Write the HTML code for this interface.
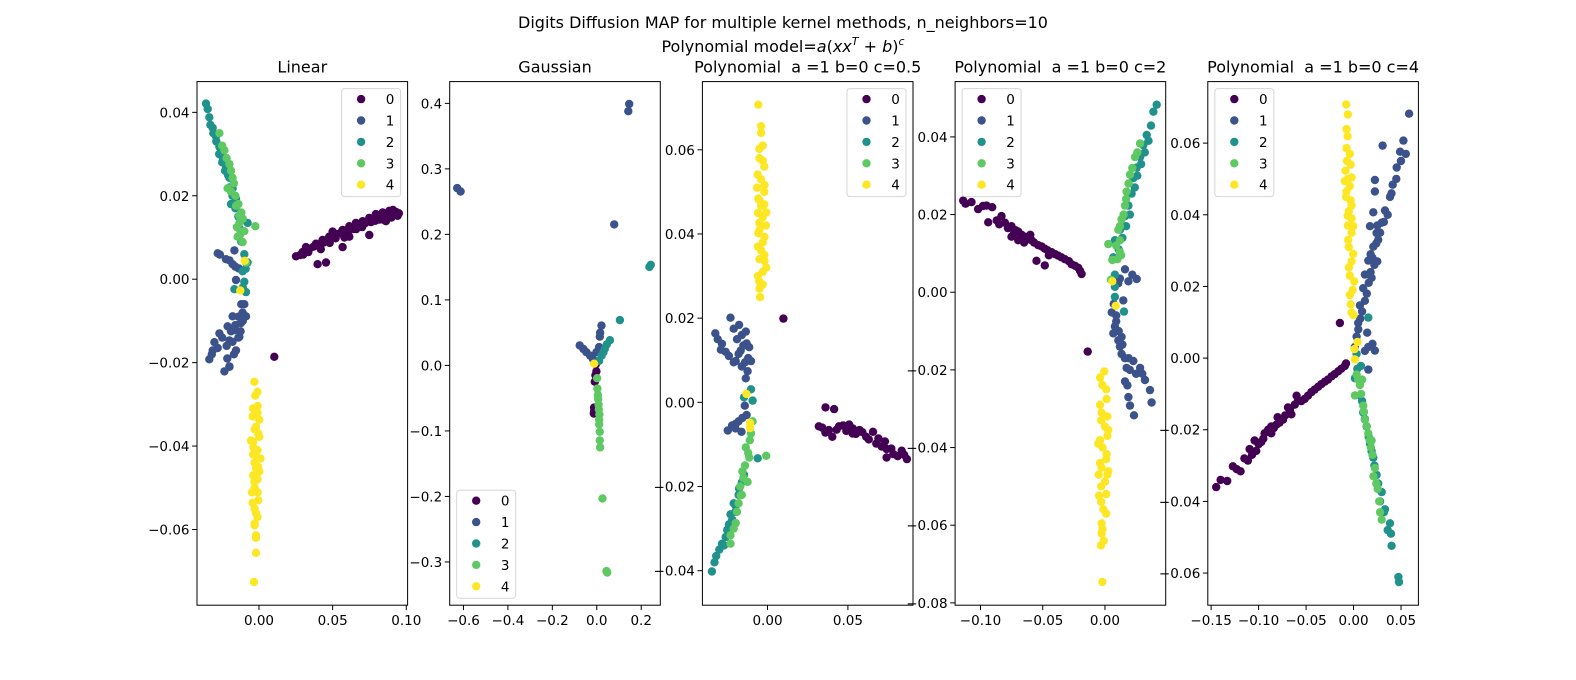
<!DOCTYPE html>
<html><head><meta charset="utf-8"><style>
html,body{margin:0;padding:0;background:#fff;}
svg{display:block;font-family:"DejaVu Sans","Liberation Sans",sans-serif;}
.pre{white-space:pre;}
</style></head><body>
<svg id="fig" width="1576" height="680" viewBox="0 0 1576 680" xmlns="http://www.w3.org/2000/svg">
<rect width="1576" height="680" fill="#fff"/>
<text x="783" y="28" font-size="16" text-anchor="middle">Digits Diffusion MAP for multiple kernel methods, n_neighbors=10</text>
<text x="783" y="52" font-size="16" text-anchor="middle">Polynomial model=<tspan font-style="italic">a</tspan>(<tspan font-style="italic">xx</tspan><tspan font-style="italic" font-size="11" dy="-7">T</tspan><tspan dy="7"> + </tspan><tspan font-style="italic">b</tspan>)<tspan font-style="italic" font-size="11" dy="-7">c</tspan></text>
<g id="plots"></g>
</svg>
<script>
// ---- data (x,y pairs in data coordinates) ----
const linear_class0 = [0.0251,0.0055,0.0296,0.0065,0.0342,0.0073,0.0387,0.0085,0.0432,0.0094,0.0477,0.0102,0.0523,0.0108,0.0568,0.0118,0.0613,0.0127,0.0658,0.0135,0.0704,0.0139,0.0749,0.0147,0.0794,0.0156,0.0839,0.016,0.0885,0.0164,0.093,0.0161,0.0941,0.0152,0.0862,0.0139,0.0749,0.0106,0.0568,0.0077,0.0398,0.0036,0.0455,0.004,0.0104,-0.0186,0.0319,0.0077,0.05,0.0114,0.0681,0.0127,0.0613,0.0102,0.0817,0.0143,
0.028,0.0058,0.033,0.0068,0.037,0.0078,0.041,0.0082,0.044,0.0088,0.047,0.0093,0.052,0.0098,0.055,0.011,0.058,0.0108,0.061,0.0117,0.064,0.012,0.067,0.0128,0.070,0.0125,0.072,0.0134,0.076,0.0137,0.078,0.0145,0.081,0.015,0.085,0.0152,0.088,0.0158,0.091,0.0166,0.095,0.0158,0.09,0.0148,0.084,0.0143,0.079,0.014,0.066,0.012,0.058,0.01,0.048,0.0087,0.042,0.0072,0.0335,0.0065,0.03,0.0059];
const linear_class1 = [-0.0265,0.0059,-0.0224,0.0048,-0.0179,0.0036,-0.0138,0.0026,-0.0167,0.0069,-0.0156,-0.0002,-0.01,-0.006,-0.0088,-0.0089,-0.0122,-0.0105,-0.0179,-0.0089,-0.0213,-0.0113,-0.0269,-0.013,-0.0303,-0.0151,-0.0337,-0.0192,-0.0314,-0.0171,-0.0235,-0.0221,-0.0201,-0.0209,-0.0156,-0.0171,-0.0133,-0.0138,-0.0167,-0.0122,-0.0111,-0.008,-0.0201,-0.0147,
-0.028,0.0062,-0.02,0.0045,-0.016,0.003,-0.012,-0.006,-0.011,-0.010,-0.014,-0.009,-0.016,-0.011,-0.019,-0.0125,-0.018,-0.015,-0.022,-0.016,-0.025,-0.014,-0.028,-0.0165,-0.032,-0.018,-0.0215,-0.019,-0.017,-0.018,-0.014,-0.014,-0.0125,-0.0125,-0.02,-0.021];
const linear_class2 = [-0.036,0.0421,-0.0348,0.0408,-0.0337,0.0388,-0.0314,0.0363,-0.0292,0.0342,-0.0269,0.0317,-0.0247,0.0292,-0.0224,0.0267,-0.0201,0.0243,-0.0179,0.0218,-0.019,0.018,-0.0156,0.0193,-0.0077,0.0135,-0.01,0.006,-0.0077,0.004,-0.0111,0.0019,-0.01,-0.0006,-0.0167,-0.0024,-0.0088,-0.0031,-0.0258,0.0317,
-0.033,0.037,-0.031,0.035,-0.029,0.033,-0.027,0.030,-0.025,0.028,-0.023,0.026,-0.021,0.025,-0.02,0.022,-0.018,0.02,-0.016,0.017,-0.014,0.015,-0.013,0.012,-0.012,0.009,-0.009,0.0025,-0.011,-0.002];
const linear_class3 = [-0.0269,0.035,-0.0235,0.0309,-0.0201,0.0276,-0.0179,0.0243,-0.019,0.021,-0.0156,0.0176,-0.0133,0.0152,-0.0133,0.0135,-0.0025,0.0127,-0.0145,0.0102,-0.0111,0.0089,-0.0122,0.0114,-0.0088,0.004,-0.0213,0.0218,
-0.025,0.032,-0.022,0.029,-0.019,0.026,-0.017,0.023,-0.016,0.020,-0.014,0.018,-0.012,0.016,-0.011,0.0145,-0.015,0.0125,-0.013,0.0105,-0.010,0.0115];
const linear_class4 = [-0.0032,-0.0246,-0.0025,-0.0279,-0.0009,-0.0304,-0.0043,-0.0329,-0.002,-0.0354,0.0002,-0.0378,-0.0038,-0.0403,-0.0009,-0.0428,-0.002,-0.0453,-0.0032,-0.0486,-0.0009,-0.0511,-0.0043,-0.0536,-0.002,-0.0561,-0.0029,-0.0586,-0.002,-0.0614,-0.002,-0.0656,-0.0034,-0.0726,-0.0097,0.0044,-0.0127,-0.0027,0.0002,-0.0337,-0.0054,-0.0387,0.0002,-0.0461,-0.0048,-0.0511,
-0.001,-0.027,-0.004,-0.031,-0.001,-0.032,-0.003,-0.036,-0.0005,-0.037,-0.004,-0.039,-0.001,-0.041,-0.003,-0.044,-0.0005,-0.045,-0.004,-0.047,-0.001,-0.048,-0.003,-0.050,-0.0005,-0.053,-0.003,-0.055,-0.001,-0.057,-0.003,-0.059,-0.002,-0.062,-0.004,-0.042,0.001,-0.043];

const gauss_class0 = [-0.0045,0.0016,-0.0015,-0.009,-0.0091,-0.0248,-0.0121,-0.0644,-0.0136,-0.0734,-0.012,-0.07,-0.006,-0.015];
const gauss_class1 = [-0.628,0.2707,-0.613,0.2654,0.146,0.399,0.142,0.388,0.0785,0.2153,-0.077,0.0306,-0.0468,0.0201,-0.0166,0.0095,0.0211,0.0607,0.0136,0.0438,0.0106,0.028,-0.0015,0.0201,-0.06,0.025,-0.03,0.015,0.015,0.05];
const gauss_class2 = [0.237,0.1504,0.243,0.1536,0.104,0.0691,0.0589,0.0385,0.0362,0.0253,0.0211,0.0148,0.0106,0.0069,0.045,0.032,0.03,0.02];
const gauss_class3 = [0.0015,-0.0195,0.003,-0.0354,0.006,-0.0512,0.0091,-0.067,0.0106,-0.0828,0.0136,-0.1013,0.0136,-0.1145,0.0151,-0.1251,0.0257,-0.2032,0.0438,-0.314,0.0468,-0.3161,0.005,-0.045,0.008,-0.06,0.012,-0.075,0.011,-0.09];
const gauss_class4 = [-0.0121,0.0026];

const polyA_class0 = [0.0099,0.0199,0.0319,-0.0057,0.0361,-0.0012,0.0414,-0.0016,0.0382,-0.0066,0.0445,-0.0057,0.0508,-0.0053,0.0572,-0.0066,0.0614,-0.0082,0.0656,-0.007,0.0677,-0.0098,0.0741,-0.0111,0.0783,-0.0123,0.0835,-0.0115,0.0867,-0.0135,0.0741,-0.0131,0.0403,-0.0082,0.0529,-0.0074,
0.034,-0.006,0.036,-0.0072,0.043,-0.0065,0.047,-0.0055,0.049,-0.0068,0.053,-0.0062,0.055,-0.0075,0.059,-0.0071,0.063,-0.0088,0.069,-0.0086,0.071,-0.0105,0.077,-0.011,0.081,-0.0128,0.085,-0.0125,0.073,-0.0093];
const polyA_class1 = [-0.0325,0.0164,-0.0283,0.0139,-0.023,0.0201,-0.0177,0.0184,-0.0135,0.0168,-0.0114,0.0131,-0.0103,0.0098,-0.0124,0.0074,-0.0198,0.0098,-0.0167,0.0123,-0.0135,0.0057,-0.0141,-0.0008,-0.0247,-0.0067,-0.0198,-0.0051,-0.0156,-0.0037,-0.0162,-0.007,
-0.031,0.015,-0.029,0.0125,-0.026,0.012,-0.024,0.011,-0.021,0.0175,-0.019,0.015,-0.016,0.016,-0.015,0.0135,-0.013,0.014,-0.018,0.0115,-0.021,0.0095,-0.016,0.0085,-0.014,0.0095,-0.012,0.0105,-0.022,-0.0055,-0.018,-0.0045,-0.013,-0.003,-0.02,-0.0062];
const polyA_class2 = [-0.0103,0.0031,-0.0146,0.0012,-0.0093,0.0004,-0.0061,-0.0133,-0.0146,-0.0172,-0.0177,-0.0205,-0.0198,-0.0246,-0.0219,-0.0279,-0.0251,-0.0303,-0.0283,-0.0336,-0.0319,-0.0365,-0.0346,-0.0402,-0.023,-0.0266,
-0.016,-0.019,-0.018,-0.022,-0.02,-0.026,-0.022,-0.028,-0.024,-0.029,-0.026,-0.032,-0.027,-0.034,-0.03,-0.035,-0.033,-0.038,-0.021,-0.024];
const polyA_class3 = [-0.0103,-0.0074,-0.0135,-0.0107,-0.0114,-0.0131,-0.0008,-0.0127,-0.0156,-0.0164,-0.0124,-0.0189,-0.0167,-0.0221,-0.0198,-0.0287,-0.023,-0.0316,-0.023,-0.0336,-0.0093,-0.0045,
-0.011,-0.009,-0.012,-0.012,-0.014,-0.015,-0.015,-0.018,-0.017,-0.02,-0.018,-0.024,-0.019,-0.026,-0.021,-0.03,-0.016,-0.022];
const polyA_class4 = [-0.0057,0.0707,-0.004,0.0656,-0.0051,0.0602,-0.003,0.0574,-0.0061,0.0541,-0.0019,0.0516,-0.0057,0.0484,-0.0008,0.0451,-0.0051,0.0426,-0.0019,0.0393,-0.004,0.0361,-0.0008,0.032,-0.0051,0.0287,-0.0046,0.025,-0.0057,0.0402,-0.0019,0.0336,-0.004,0.0467,-0.0131,0.002,-0.0108,-0.0049,-0.0108,-0.0061,
-0.003,0.061,-0.005,0.058,-0.002,0.056,-0.004,0.053,-0.0065,0.051,-0.002,0.05,-0.005,0.048,-0.002,0.047,-0.006,0.045,-0.003,0.044,-0.001,0.042,-0.005,0.041,-0.003,0.038,-0.006,0.037,-0.002,0.035,-0.005,0.034,-0.003,0.031,-0.006,0.030,-0.003,0.028,-0.005,0.027,-0.004,0.064];

const polyB_class0 = [-0.1139,0.0236,-0.1072,0.0232,-0.1019,0.0214,-0.0952,0.0223,-0.0906,0.0219,-0.0938,0.018,-0.0831,0.0196,-0.0804,0.0179,-0.0751,0.017,-0.0697,0.0156,-0.0751,0.0143,-0.0643,0.0143,-0.059,0.0134,-0.0536,0.0121,-0.0483,0.0112,-0.0429,0.0103,-0.0375,0.0094,-0.0322,0.0085,-0.0268,0.0072,-0.0214,0.0063,-0.0188,0.0047,-0.055,0.0081,-0.0483,0.0069,-0.0139,-0.0153,-0.0697,0.0134,
-0.112,0.0228,-0.098,0.0222,-0.087,0.0185,-0.078,0.0165,-0.072,0.016,-0.067,0.0148,-0.062,0.0137,-0.057,0.0128,-0.051,0.0118,-0.046,0.0108,-0.04,0.0098,-0.035,0.009,-0.029,0.008,-0.024,0.0068,-0.02,0.0055,-0.065,0.0128,-0.06,0.0148,-0.045,0.0095,-0.085,0.0175,-0.073,0.0152];
const polyB_class1 = [0.0161,0.0059,0.0107,0.0023,0.0188,0.0028,0.0255,0.0034,0.0147,-0.0021,0.0054,-0.0052,0.008,-0.0088,0.0107,-0.0124,0.0134,-0.0159,0.0174,-0.0195,0.0228,-0.0177,0.0282,-0.0195,0.0322,-0.0226,0.0362,-0.0252,0.0375,-0.0284,0.0161,-0.023,0.0188,-0.027,0.0201,-0.0292,0.0233,-0.0317,0.0134,-0.0115,0.0067,-0.0106,
0.007,-0.003,0.009,-0.006,0.011,-0.01,0.012,-0.014,0.014,-0.0135,0.016,-0.017,0.019,-0.017,0.02,-0.02,0.025,-0.021,0.03,-0.021,0.018,-0.024,0.009,-0.0075,0.022,0.0045,0.012,0.0035];
const polyB_class2 = [0.0416,0.0483,0.0389,0.0465,0.037,0.0429,0.0335,0.0405,0.0308,0.0379,0.0282,0.0348,0.0255,0.0321,0.0228,0.0294,0.0214,0.0254,0.0188,0.0223,0.0161,0.0196,0.0121,0.0161,0.008,0.0134,0.0067,0.009,0.008,0.0045,0.008,0.0014,0.008,-0.0012,0.0153,-0.005,
0.035,0.039,0.032,0.036,0.029,0.033,0.026,0.03,0.024,0.027,0.02,0.02,0.017,0.017,0.014,0.014,0.011,0.011];
const polyB_class3 = [0.0282,0.0383,0.0241,0.0348,0.0201,0.0303,0.0174,0.0259,0.0161,0.0223,0.0134,0.0188,0.0107,0.0161,0.0121,0.0134,0.0027,0.0124,0.0059,0.0083,0.0121,0.0103,0.0048,0.0032,
0.026,0.036,0.022,0.032,0.019,0.028,0.017,0.024,0.015,0.02,0.012,0.017,0.009,0.012,0.01,0.0085,0.013,0.0095];
const polyB_class4 = [-0.0005,-0.0204,-0.0021,-0.0239,0.0013,-0.0275,-0.0027,-0.031,0,-0.0346,-0.004,-0.0381,0.0013,-0.0417,-0.0027,-0.0452,0,-0.0488,-0.0048,-0.0524,-0.0013,-0.0559,-0.0027,-0.0595,-0.0027,-0.0621,-0.0032,-0.0652,-0.0021,-0.0746,-0.0054,-0.039,0.0027,-0.0355,0.0027,-0.0461,0.0059,0.0028,0.0086,-0.0035,
-0.004,-0.022,0.001,-0.025,-0.004,-0.029,0.002,-0.032,-0.003,-0.033,0.002,-0.037,-0.002,-0.04,0.001,-0.043,-0.004,-0.044,0.002,-0.047,-0.003,-0.05,0.001,-0.052,-0.003,-0.054,0.001,-0.057,-0.002,-0.061,-0.001,-0.064,-0.005,-0.047];

const polyC_class0 = [-0.1447,-0.036,-0.1331,-0.0343,-0.1271,-0.0302,-0.119,-0.0316,-0.1113,-0.0286,-0.1095,-0.0254,-0.1025,-0.0259,-0.0972,-0.0234,-0.0937,-0.021,-0.0866,-0.021,-0.0813,-0.0186,-0.0743,-0.0172,-0.069,-0.0138,-0.0655,-0.0157,-0.0585,-0.0119,-0.0514,-0.0114,-0.0444,-0.0095,-0.0373,-0.008,-0.0303,-0.0066,-0.0232,-0.0051,-0.0162,-0.0037,-0.0092,-0.0022,-0.0144,0.0098,-0.1042,-0.023,-0.0866,-0.0191,
-0.14,-0.034,-0.123,-0.031,-0.115,-0.028,-0.107,-0.027,-0.1,-0.024,-0.095,-0.0225,-0.09,-0.02,-0.084,-0.0195,-0.078,-0.018,-0.072,-0.016,-0.067,-0.0145,-0.062,-0.013,-0.055,-0.012,-0.048,-0.0105,-0.041,-0.0088,-0.034,-0.0073,-0.027,-0.006,-0.02,-0.0045,-0.013,-0.003,-0.008,-0.0015,-0.06,-0.0105,-0.08,-0.0165];
const polyC_class1 = [0.0585,0.0682,0.0525,0.0607,0.049,0.0576,0.0454,0.0532,0.0306,0.0593,0.0225,0.0497,0.0225,0.0465,0.0412,0.0484,0.0384,0.045,0.0331,0.0412,0.0208,0.0407,0.0243,0.0349,0.0173,0.0368,0.0208,0.0311,0.0155,0.0272,0.012,0.0233,0.0102,0.0195,0.0067,0.0147,0.0049,0.0098,0.0032,0.006,0.0155,0.0031,0.0225,0.0021,0.0155,-0.0032,0.0014,0.0031,0.0296,0.0378,0.026,0.033,0.019,0.0224,0.0144,0.0071,
0.055,0.057,0.05,0.055,0.045,0.05,0.04,0.046,0.036,0.04,0.032,0.038,0.028,0.035,0.024,0.032,0.02,0.028,0.022,0.026,0.018,0.024,0.016,0.021,0.014,0.018,0.012,0.016,0.009,0.013,0.007,0.011,0.005,0.008,0.018,0.029,0.025,0.037,0.02,0.004,0.012,0.002,0.025,0.027];
const polyC_class2 = [0.0155,0.0113,0.0032,0.0012,0.0014,-0.0056,0.0067,-0.0104,0.0102,-0.0152,0.0137,-0.0191,0.0173,-0.0239,0.0208,-0.0278,0.0243,-0.0326,0.0296,-0.0374,0.0331,-0.0422,0.0384,-0.0461,0.0394,-0.049,0.0401,-0.0524,0.0472,-0.0611,0.0479,-0.0625,0.0077,-0.0022,
0.004,-0.003,0.009,-0.012,0.012,-0.017,0.016,-0.022,0.019,-0.026,0.022,-0.03,0.026,-0.035,0.028,-0.04,0.032,-0.043,0.036,-0.048];
const polyC_class3 = [0.0032,-0.0046,0.0067,-0.0075,0.0014,-0.0104,0.0102,-0.0133,0.012,-0.0172,0.0155,-0.021,0.0183,-0.0249,0.0225,-0.0307,0.0254,-0.0365,0.0296,-0.0451,0.019,-0.023,
0.005,-0.006,0.008,-0.01,0.011,-0.015,0.014,-0.019,0.017,-0.023,0.02,-0.027,0.021,-0.033,0.024,-0.035,0.027,-0.04,0.028,-0.043,0.009,-0.006];
const polyC_class4 = [-0.0077,0.0708,-0.0074,0.0639,-0.0063,0.0619,-0.0074,0.0586,-0.0085,0.0523,-0.0021,0.0504,-0.0074,0.0465,-0.0021,0.0426,-0.0063,0.0397,-0.0004,0.0368,-0.0056,0.033,-0.0004,0.0291,-0.0049,0.0253,0.0007,0.0214,-0.0039,0.0176,-0.0021,0.0127,0.0042,0.0045,0.0014,-0.0004,-0.0092,0.0494,
-0.006,0.068,-0.004,0.057,-0.007,0.055,-0.003,0.054,-0.006,0.05,-0.004,0.048,-0.008,0.045,-0.003,0.044,-0.005,0.041,-0.002,0.039,-0.006,0.037,-0.002,0.035,-0.005,0.031,-0.002,0.027,-0.004,0.023,-0.001,0.019,-0.003,0.015,0.0,0.012,0.001,0.0025];

const linear_xticks = [0, 0.05, 0.10];
const linear_yticks = [0.04, 0.02, 0, -0.02, -0.04, -0.06];
const gauss_xticks = [-0.6, -0.4, -0.2, 0, 0.2];
const gauss_yticks = [0.4, 0.3, 0.2, 0.1, 0, -0.1, -0.2, -0.3];
const polyA_xticks = [0, 0.05];
const polyA_yticks = [0.06, 0.04, 0.02, 0, -0.02, -0.04];
const polyB_xticks = [-0.10, -0.05, 0];
const polyB_yticks = [0.04, 0.02, 0, -0.02, -0.04, -0.06, -0.08];
const polyC_xticks = [-0.15, -0.10, -0.05, 0, 0.05];
const polyC_yticks = [0.06, 0.04, 0.02, 0, -0.02, -0.04, -0.06];

const classLabels = ["0","1","2","3","4"];
const colors = ["#440154","#3b528b","#21918c","#5ec962","#fde725"];

const NS = "http://www.w3.org/2000/svg";
const root = document.getElementById("plots");
function mk(tag, attrs, parent){ const e=document.createElementNS(NS,tag); for(const k in attrs) e.setAttribute(k,attrs[k]); (parent||root).appendChild(e); return e; }
function fmt(v,d){ const s=Math.abs(v).toFixed(d); return (v<-1e-12?"\u2212":"")+s; }

const W=210.6, H=523.6, TOP=81.6;
const panels = [
 {key:"linear", title:"Linear", x0:197, xlim:[-0.04208,0.1009], ylim:[-0.07815,0.04737], dec:2, ydec:2, data:[linear_class0,linear_class1,linear_class2,linear_class3,linear_class4], xt:linear_xticks, yt:linear_yticks, legend:"ur"},
 {key:"gaussian", title:"Gaussian", x0:449.7, xlim:[-0.6619,0.2859], ylim:[-0.366,0.4332], dec:1, ydec:1, data:[gauss_class0,gauss_class1,gauss_class2,gauss_class3,gauss_class4], xt:gauss_xticks, yt:gauss_yticks, legend:"ll"},
 {key:"poly-c05", title:"Polynomial  a =1 b=0 c=0.5", x0:702.4, xlim:[-0.0405,0.0905], ylim:[-0.0482,0.0762], dec:2, ydec:2, data:[polyA_class0,polyA_class1,polyA_class2,polyA_class3,polyA_class4], xt:polyA_xticks, yt:polyA_yticks, legend:"ur"},
 {key:"poly-c2", title:"Polynomial  a =1 b=0 c=2", x0:955.1, xlim:[-0.1204,0.0488], ylim:[-0.0806,0.05424], dec:2, ydec:2, data:[polyB_class0,polyB_class1,polyB_class2,polyB_class3,polyB_class4], xt:polyB_xticks, yt:polyB_yticks, legend:"ul"},
 {key:"poly-c4", title:"Polynomial  a =1 b=0 c=4", x0:1207.8, xlim:[-0.1535,0.0683], ylim:[-0.06897,0.07717], dec:2, ydec:2, data:[polyC_class0,polyC_class1,polyC_class2,polyC_class3,polyC_class4], xt:polyC_xticks, yt:polyC_yticks, legend:"ul"}
];

panels.forEach(p=>{
  const g = mk("g",{});
  
  
  const sx = v => p.x0 + (v-p.xlim[0])/(p.xlim[1]-p.xlim[0])*W;
  const sy = v => TOP + (p.ylim[1]-v)/(p.ylim[1]-p.ylim[0])*H;
  const t = mk("text",{x:p.x0+W/2, y:TOP-9, "font-size":16, "text-anchor":"middle", "class":"pre"}, g);
  t.textContent = p.title;
  
  
  const pts = mk("g",{}, g);
  
  
  p.data.forEach((arr,ci)=>{
    for(let i=0;i+1<arr.length;i+=2){
      const c = mk("circle",{cx:sx(arr[i]).toFixed(1), cy:sy(arr[i+1]).toFixed(1), r:4.2, fill:colors[ci]}, pts);
      
      
    }
  });
  const fr = mk("rect",{x:p.x0, y:TOP, width:W, height:H, fill:"none", stroke:"#000", "stroke-width":1}, g);
  
  
  p.xt.forEach(v=>{
    const x = sx(v);
    const l = mk("line",{x1:x,x2:x,y1:TOP+H,y2:TOP+H+4.9,stroke:"#000","stroke-width":1}, g);
    
    
    const tx = mk("text",{x:x, y:TOP+H+20, "font-size":13.5, "text-anchor":"middle"}, g);
    tx.textContent = fmt(v,p.dec);
    
    
  });
  p.yt.forEach(v=>{
    const y = sy(v);
    const l = mk("line",{x1:p.x0-4.9,x2:p.x0,y1:y,y2:y,stroke:"#000","stroke-width":1}, g);
    
    
    const ty = mk("text",{x:p.x0-7.5, y:y+5, "font-size":13.5, "text-anchor":"end"}, g);
    ty.textContent = fmt(v,p.ydec);
    
    
  });
  const lw=59, lh=108;
  let lx, ly;
  if(p.legend==="ur"){ lx=p.x0+W-7-lw; ly=TOP+7; }
  else if(p.legend==="ul"){ lx=p.x0+7; ly=TOP+7; }
  else { lx=p.x0+7; ly=TOP+H-7-lh; }
  const lg = mk("g",{}, g);
  
  
  mk("rect",{x:lx,y:ly,width:lw,height:lh,rx:3,fill:"#fff","fill-opacity":0.8,stroke:"#d6d6d6","stroke-width":1}, lg);
  classLabels.forEach((lab,i)=>{
    const e = mk("g",{}, lg);
    
    
    const yy = ly+10.5+i*21.4;
    mk("circle",{cx:lx+19.5, cy:yy, r:4.2, fill:colors[i]}, e);
    const tt = mk("text",{x:lx+48.5, y:yy+5, "font-size":13.5, "text-anchor":"middle"}, e);
    tt.textContent = lab;
  });
});
</script>
</body></html>
